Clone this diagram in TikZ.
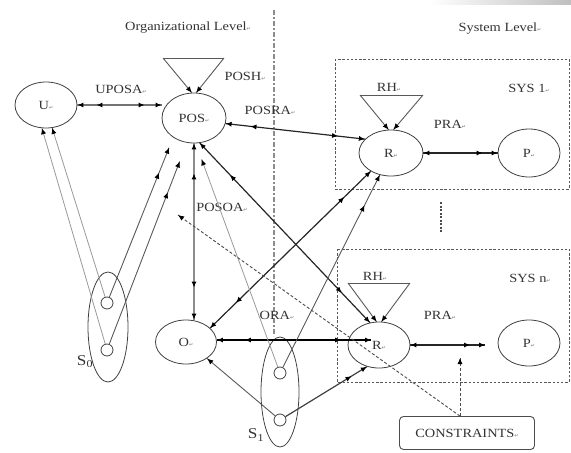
\documentclass[tikz,border=0pt]{standalone}
\usepackage{fontspec}
\newfontfamily\lblfont{Liberation Serif}[FakeStretch=1.15]
\newfontfamily\markfont{DejaVu Sans}
\newcommand{\parmk}{{\markfont\fontsize{5}{5}\selectfont\textcolor{black!55}{↵}}}
\usetikzlibrary{arrows.meta, calc, positioning, shapes.geometric, decorations.markings}

\tikzset{
  tipend/.style={postaction={decorate,decoration={markings,mark=at position #1 with {\arrow{Latex[length=6pt,width=5.2pt,color=black]}}}}},
  tipstart/.style={postaction={decorate,decoration={markings,mark=at position #1 with {\arrowreversed{Latex[length=6pt,width=5.2pt,color=black]}}}}},
  fwd/.style={tipend=1, tipend=-#1},
  bwd/.style={tipstart=0, tipstart=#1},
  lbl/.style={font=\lblfont\fontsize{12.5}{14}\selectfont, text=black!80, inner sep=0pt},
  ell/.style={ellipse, draw=black!75, line width=0.8pt, inner sep=0pt, lbl},
  dot/.style={circle, draw=black!75, line width=0.8pt, minimum size=12pt, inner sep=0pt},
  grayln/.style={draw=black!40, line width=0.8pt},
  midln/.style={draw=black!65, line width=0.9pt},
  darkln/.style={draw=black!85, line width=1.2pt},
  heavyln/.style={draw=black, line width=1.7pt},
  boxln/.style={draw=black!65, line width=1pt, dash pattern=on 2.4pt off 1.8pt},
  dashln/.style={draw=black!70, line width=0.9pt, dash pattern=on 3pt off 2pt}
}

\begin{document}
\begin{tikzpicture}[x=1pt, y=-1pt]
\useasboundingbox (0,0) rectangle (571,453);

% faint strip at the top
\shade[left color=white, right color=black!25] (430,0) rectangle (571,4);

% level titles and divider
\node[lbl] (orglbl) at (188,28) {Organizational Level\parmk};
\node[lbl] (syslbl) at (500,29) {System Level\parmk};
\draw[black!45, line width=1.3pt, dash pattern=on 5pt off 2pt on 2pt off 2pt] (274,10) -- (274,336);

% system boxes
\draw[boxln] (335,59) rectangle (569,189);
\draw[boxln] (337,249) rectangle (569,382);
\node[lbl] (sys1lbl) at (529,88) {SYS 1\parmk};
\node[lbl] (sysnlbl) at (530,278) {SYS n\parmk};
\draw[black!70, line width=1.1pt, dash pattern=on 2pt off 1.5pt] (441,202) -- (441,232);

% main nodes
\node[ell, minimum width=62pt, minimum height=46pt] (U) at (46,105) {U\parmk};
\node[ell, minimum width=64pt, minimum height=50pt] (POS) at (194,118) {POS\parmk};
\node[ell, minimum width=61pt, minimum height=44pt] (O) at (186,342) {O\parmk};
\node[ell, minimum width=64pt, minimum height=46pt] (R1) at (391,153) {R\parmk};
\node[ell, minimum width=62pt, minimum height=48pt] (P1) at (529,153) {P\parmk};
\node[ell, minimum width=62pt, minimum height=46pt] (R2) at (379,345) {R\parmk};
\node[ell, minimum width=62pt, minimum height=46pt] (P2) at (529,343) {P\parmk};
\node[lbl, draw=black!70, line width=0.9pt, rounded corners=4pt, minimum width=135pt, minimum height=33pt] (cons) at (467,433) {CONSTRAINTS\parmk};

% sets S0 and S1
\node[ell, minimum width=40pt, minimum height=110pt] (S0) at (108,327) {};
\node[dot] (s0a) at (107,303) {};
\node[dot] (s0b) at (107,350) {};
\node[lbl, font=\lblfont\fontsize{15}{16}\selectfont] (s0lbl) at (85,362) {S\textsubscript{0}};
\node[ell, minimum width=38pt, minimum height=110pt] (S1) at (280,392) {};
\node[dot] (s1a) at (280,373) {};
\node[dot] (s1b) at (280,420) {};
\node[lbl, font=\lblfont\fontsize{15}{16}\selectfont] (s1lbl) at (256,435) {S\textsubscript{1}};

% hierarchy triangles
\coordinate (poshL) at (163,58);
\coordinate (poshR) at (224,58);
\draw[midln] (poshL) -- (poshR);
\draw[midln, tipend=1] (poshL) -- (POS.95);
\draw[midln, tipend=1] (poshR) -- (POS.85);
\node[lbl] (poshlbl) at (245,76) {POSH\parmk};

\coordinate (rh1L) at (360,95);
\coordinate (rh1R) at (423,95);
\draw[midln] (rh1L) -- (rh1R);
\draw[midln, tipend=1] (rh1L) -- (R1.96);
\draw[midln, tipend=1] (rh1R) -- (R1.84);
\node[lbl] (rh1lbl) at (389,87) {RH\parmk};

\coordinate (rh2L) at (348,283);
\coordinate (rh2R) at (410,283);
\draw[midln] (rh2L) -- (rh2R);
\draw[midln, tipend=1] (rh2L) -- (R2.96);
\draw[midln, tipend=1] (rh2R) -- (R2.84);
\node[lbl] (rh2lbl) at (375,276) {RH\parmk};

% assignments between nodes
\draw[draw=black!55, line width=1.8pt, bwd=19pt, fwd=17pt] (U.east) -- (U.east -| POS.west);
\node[lbl] (uposalbl) at (121,89) {UPOSA\parmk};

\draw[darkln, bwd=25pt, fwd=27pt] (POS.-10) -- (R1.152);
\node[lbl] (posralbl) at (270,110) {POSRA\parmk};

\draw[draw=black!45, line width=2.2pt, bwd=30pt, fwd=32pt] (POS.south) -- (POS.south |- O.north);
\node[lbl] (posoalbl) at (222,207) {POSOA\parmk};

\draw[darkln, bwd=44pt, fwd=41pt] (POS.-77) -- (R2.112);
\draw[darkln, bwd=37pt, fwd=36pt] (R1.-138) -- (O.30);

\coordinate (rin) at (371,340);
\draw[heavyln, bwd=28pt, fwd=30pt] (O.east |- rin) -- (rin);
\node[lbl] (oralbl) at (277,315) {ORA\parmk};

\draw[darkln, tipstart=0, fwd=15pt] (R1.east) -- (P1.west);
\node[lbl] (pra1lbl) at (450,124) {PRA\parmk};
\coordinate (pend) at (485,345);
\draw[darkln, tipstart=0, fwd=15pt] (R2.east) -- (pend);
\node[lbl] (pra2lbl) at (440,315) {PRA\parmk};

% members of S0 and S1
\draw[grayln, tipend=1] (s0b) -- (U.-100);
\draw[grayln, tipend=1] (s0a) -- (U.-75);
\draw[midln, fwd=27pt] (s0a) -- ($(POS.-137)!11pt!(s0a)$);
\draw[midln, fwd=33pt] (s0b) -- ($(POS.-106)!20pt!(s0b)$);
\draw[grayln, tipend=1] (s1a) -- ($(POS.-86)!17pt!(s1a)$);
\draw[midln, fwd=34pt] (s1a) -- (R1.-117);
\draw[midln, tipend=1] (s1b) -- (O.-38);
\draw[darkln, draw=black!75, fwd=18pt] (s1b) -- (R2.-119);

% constraints
\coordinate (ctop) at ($(cons.north)+(-7,0)$);
\coordinate (dashend) at (178,215);
\coordinate (cup) at (460,358);
\draw[dashln, tipend=1] (ctop) -- (dashend);
\draw[dashln, tipend=1] (ctop) -- (cup);
\end{tikzpicture}
\end{document}
